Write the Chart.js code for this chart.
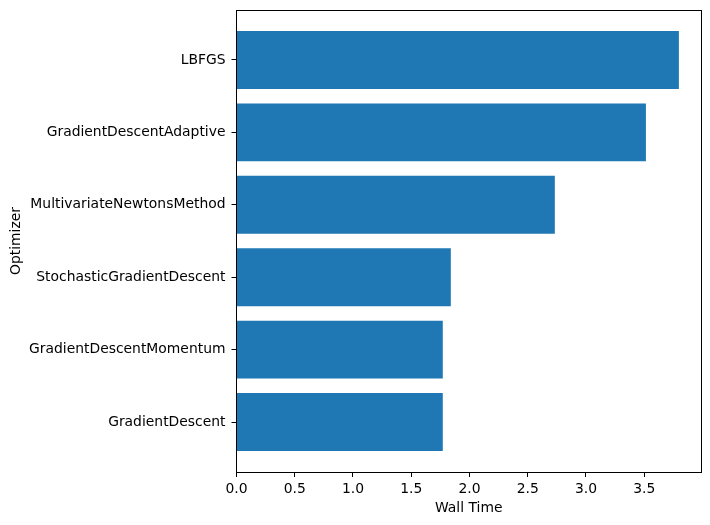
<!DOCTYPE html>
<html>
<head>
<meta charset="utf-8">
<script src="https://cdn.jsdelivr.net/npm/chart.js@4/dist/chart.umd.min.js"></script>
<style>
  body { margin: 0; background: #fff; }
  #wrap { width: 710px; height: 525px; }
</style>
</head>
<body>
<div id="wrap"><canvas id="chart" width="710" height="525"></canvas></div>
<script>
// bottom to top, same order as the plot
const optimizers = [
    "GradientDescent",
    "GradientDescentMomentum",
    "StochasticGradientDescent",
    "MultivariateNewtonsMethod",
    "GradientDescentAdaptive",
    "LBFGS"
];
const wallTimes = [1.771, 1.771, 1.840, 2.733, 3.515, 3.798];
const xTicks = [0.0, 0.5, 1.0, 1.5, 2.0, 2.5, 3.0, 3.5];

const font = { family: "DejaVu Sans", size: 13.9 };
const barColor = "#1f77b4";

// frame round the plot area, like matplotlib spines
const frame = {
    id: "frame",
    afterDatasetsDraw(chart) {
        const a = chart.chartArea;
        const ctx = chart.ctx;
        ctx.save();
        ctx.strokeStyle = "#000";
        ctx.lineWidth = 1;
        ctx.strokeRect(Math.round(a.left) - 0.5, Math.round(a.top) + 0.5,
            Math.round(a.right - a.left), Math.round(a.bottom - a.top));
        ctx.restore();
    }
};

let chartEl = document.getElementById("chart");
let pts = wallTimes.map((v, i) => ({ x: v, y: i }));
let yPad = 0.4 + 0.05 * (optimizers.length - 1 + 0.8);

let chart = new Chart(chartEl, {
    type: "bar",
    data: {
        datasets: [{
            data: pts,
            backgroundColor: barColor,
            borderWidth: 0,
            barPercentage: 0.8,
            categoryPercentage: 1.0
        }]
    },
    plugins: [frame],
    options: {
        indexAxis: "y",
        responsive: false,
        devicePixelRatio: 1,
        animation: false,
        layout: { padding: { left: 0, right: 9, top: 10, bottom: 0 } },
        plugins: { legend: { display: false }, tooltip: { enabled: false } },
        scales: {
            x: {
                type: "linear",
                min: 0,
                max: Math.max(...wallTimes) * 1.05,
                afterBuildTicks: s => { s.ticks = xTicks.map(v => ({ value: v })); },
                afterFit: s => { s.height = 53; },
                grid: { drawOnChartArea: false, drawTicks: true, tickLength: 5, tickColor: "#000" },
                border: { display: false },
                ticks: { color: "#000", font: font, padding: 4, maxRotation: 0,
                    callback: v => v.toFixed(1) },
                title: { display: true, text: "Wall Time", color: "#000", font: font,
                    padding: { top: 2, bottom: 8 } }
            },
            y: {
                type: "linear",
                offset: false,
                min: -yPad,
                max: optimizers.length - 1 + yPad,
                afterBuildTicks: s => { s.ticks = optimizers.map((_, i) => ({ value: i })); },
                afterFit: s => { s.width = 236.5; s.paddingTop = 0; s.paddingBottom = 0; },
                grid: { offset: false, drawOnChartArea: false, drawTicks: true, tickLength: 5, tickColor: "#000" },
                border: { display: false },
                ticks: { color: "#000", font: font, padding: 6,
                    callback: v => optimizers[v] },
                title: { display: true, text: "Optimizer", color: "#000", font: font,
                    padding: { top: 8, bottom: 0 } }
            }
        }
    }
});
</script>
</body>
</html>
